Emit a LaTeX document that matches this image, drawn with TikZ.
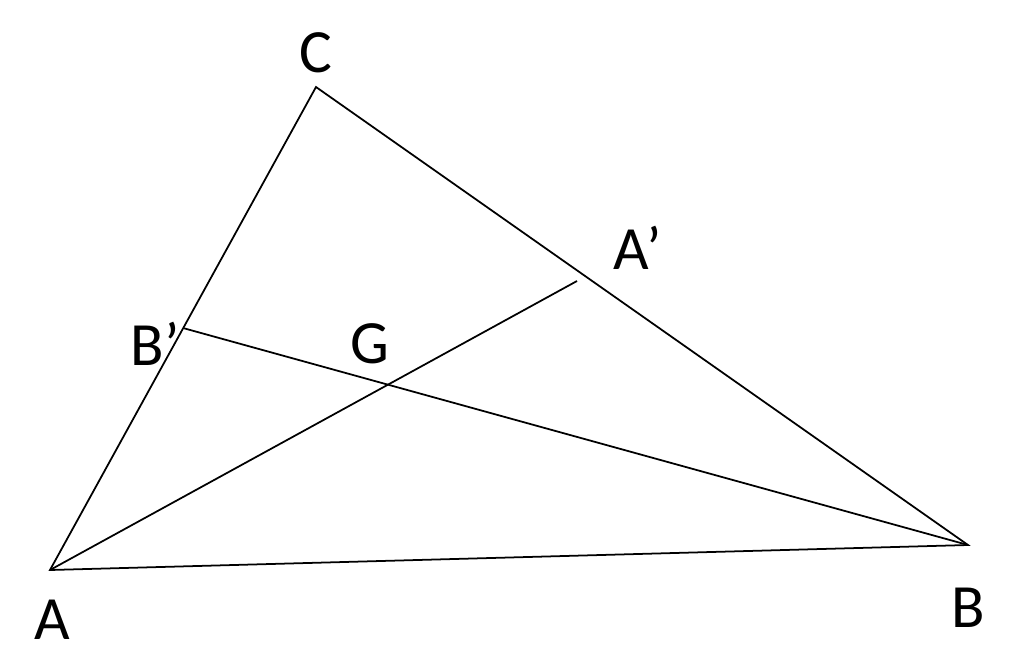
\documentclass[tikz,border=0pt]{standalone}
\usepackage{fontspec}
\setmainfont{Carlito}
\begin{document}
\begin{tikzpicture}[x=0.02cm, y=-0.02cm, lbl/.style = {font=\fontsize{35}{40}\selectfont, inner sep=0pt}]
\useasboundingbox (0,0) rectangle (1024,650);
\coordinate (A) at (50,570);
\coordinate (B) at (968,545);
\coordinate (C) at (316,87);
\coordinate (Bp) at (183,328); % midpoint of AC
\coordinate (Ap) at (577,281);
\draw[line width=1pt] (A) -- (B) -- (C) -- cycle;
\draw[line width=1pt] (A) -- (Ap);
\draw[line width=1pt] (B) -- (Bp);
\node[lbl] (lC) at (316,53) {C};
\node[lbl] (lAp) at (638,248) {A’};
\node[lbl] (lBp) at (155,344) {B’};
\node[lbl] (lG) at (370,344) {G};
\node[lbl] (lA) at (52,620) {A};
\node[lbl] (lB) at (968,608) {B};
\end{tikzpicture}
\end{document}
